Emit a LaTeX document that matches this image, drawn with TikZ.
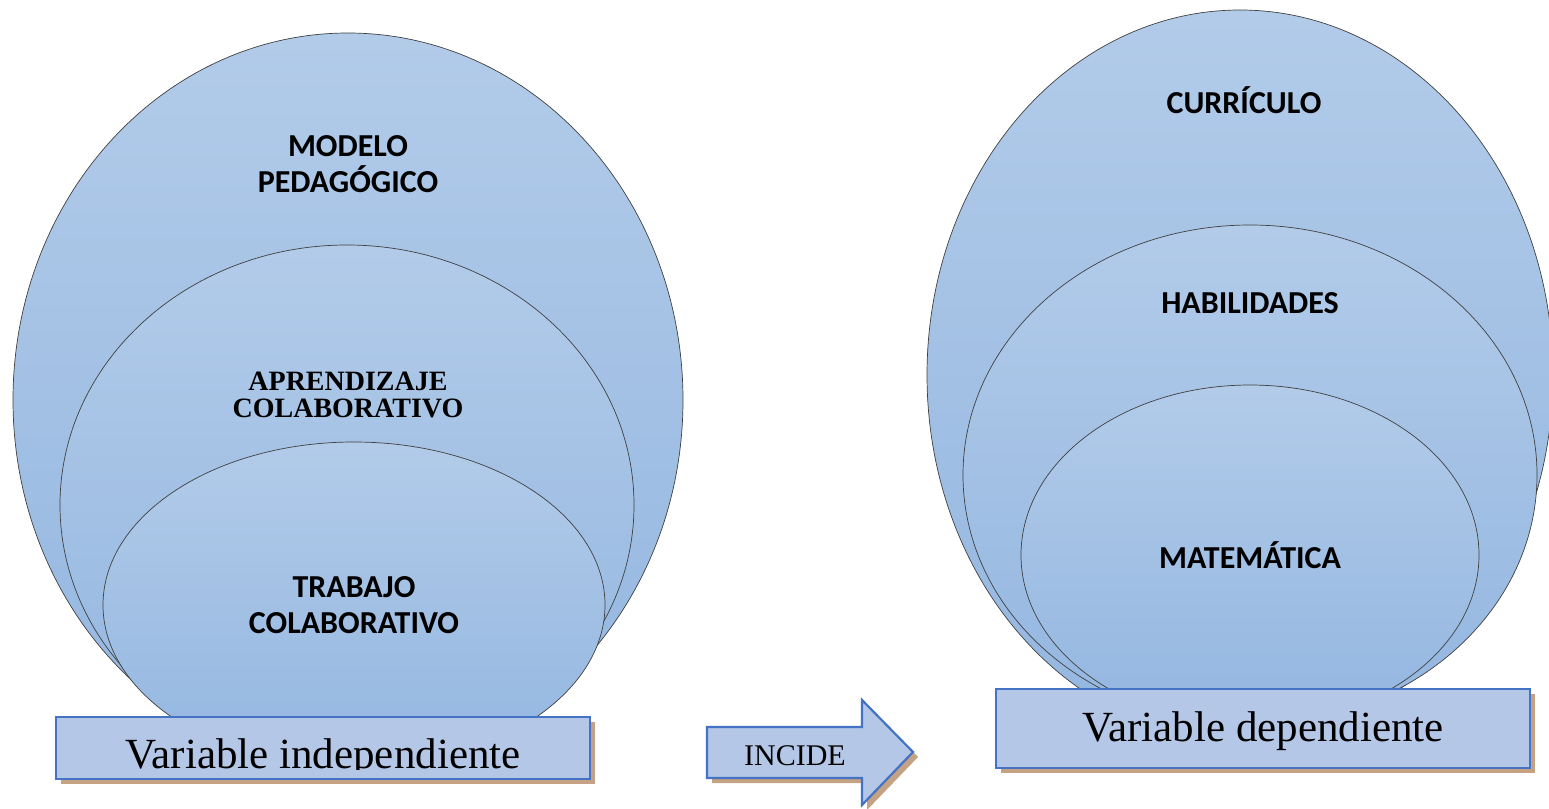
\documentclass[tikz,border=0pt]{standalone}
\usepackage{fontspec}
\setmainfont{Liberation Serif}
\newfontfamily\calib{Carlito}
\usetikzlibrary{shapes.geometric,shadows}
\definecolor{elltop}{HTML}{B2CBE9}
\definecolor{ellbot}{HTML}{93B6E0}
\definecolor{boxfill}{HTML}{B4C7E7}
\definecolor{boxline}{HTML}{4472C4}
\definecolor{shadowc}{HTML}{C4A283}
\definecolor{outl}{HTML}{404040}
\begin{document}
\begin{tikzpicture}[x=1pt,y=-1pt,
  oval/.style={ellipse, draw=outl, line width=0.7pt, top color=elltop, bottom color=ellbot, inner sep=0pt},
  lab/.style={font=\calib\bfseries\fontsize{32}{36}\selectfont, align=center, inner sep=0pt},
  seriflab/.style={font=\bfseries\fontsize{28}{27}\selectfont, align=center, inner sep=0pt},
  varbox/.style={draw=boxline, line width=2.2pt, fill=boxfill, inner sep=0pt,
    drop shadow={shadow xshift=5pt, shadow yshift=-5pt, fill=shadowc, opacity=1}},
  bigtext/.style={font=\fontsize{43}{46}\selectfont, inner sep=0pt, anchor=base}]
\useasboundingbox (0,0) rectangle (1549,808);
\clip (0,0) rectangle (1549,808);
\fill[white] (0,0) rectangle (1549,808);

% left nested ovals
\node[oval, minimum width=670pt, minimum height=734pt] (lo) at (348,400) {};
\node[oval, minimum width=574pt, minimum height=520pt] (lm) at (347,505) {};
\node[oval, minimum width=502pt, minimum height=326pt] (li) at (354,605) {};
\node[lab] (tmod) at (348,164) {MODELO\\PEDAGÓGICO};
\node[seriflab] (tapr) at (348,395) {APRENDIZAJE\\COLABORATIVO};
\node[lab] (ttra) at (354,605) {TRABAJO\\COLABORATIVO};

% right nested ovals
\node[oval, minimum width=626pt, minimum height=730pt] (ro) at (1240,375) {};
\node[oval, minimum width=574pt, minimum height=500pt] (rm) at (1250,475) {};
\node[oval, minimum width=458pt, minimum height=340pt] (ri) at (1250,555) {};
\node[lab] (tcur) at (1244,100) {CURRÍCULO};
\node[lab] (thab) at (1250,303) {HABILIDADES};
\node[lab] (tmat) at (1250,555) {MATEMÁTICA};

% boxes
\node[varbox, minimum width=534pt, minimum height=62pt] (vi) at (323,748) {};
\begin{scope}
  \clip (vi.north west) rectangle (590,769.5);
  \node[bigtext] (vit) at (323,768) {Variable independiente};
\end{scope}
\node[varbox, minimum width=534pt, minimum height=79pt] (vd) at (1263,728.5) {};
\node[bigtext] (vdt) at (1263,741) {Variable dependiente};

% block arrow
\fill[shadowc] (712,732) -- (867,732) -- (867,705) -- (918,757) -- (867,810) -- (867,783) -- (712,783) -- cycle;
\draw[draw=boxline, line width=2.2pt, fill=boxfill, line join=miter]
  (707,727) -- (862,727) -- (862,700) -- (913,752) -- (862,805) -- (862,778) -- (707,778) -- cycle;
\node[font=\fontsize{30}{32}\selectfont, inner sep=0pt, anchor=base] (inc) at (795,765) {INCIDE};
\end{tikzpicture}
\end{document}
